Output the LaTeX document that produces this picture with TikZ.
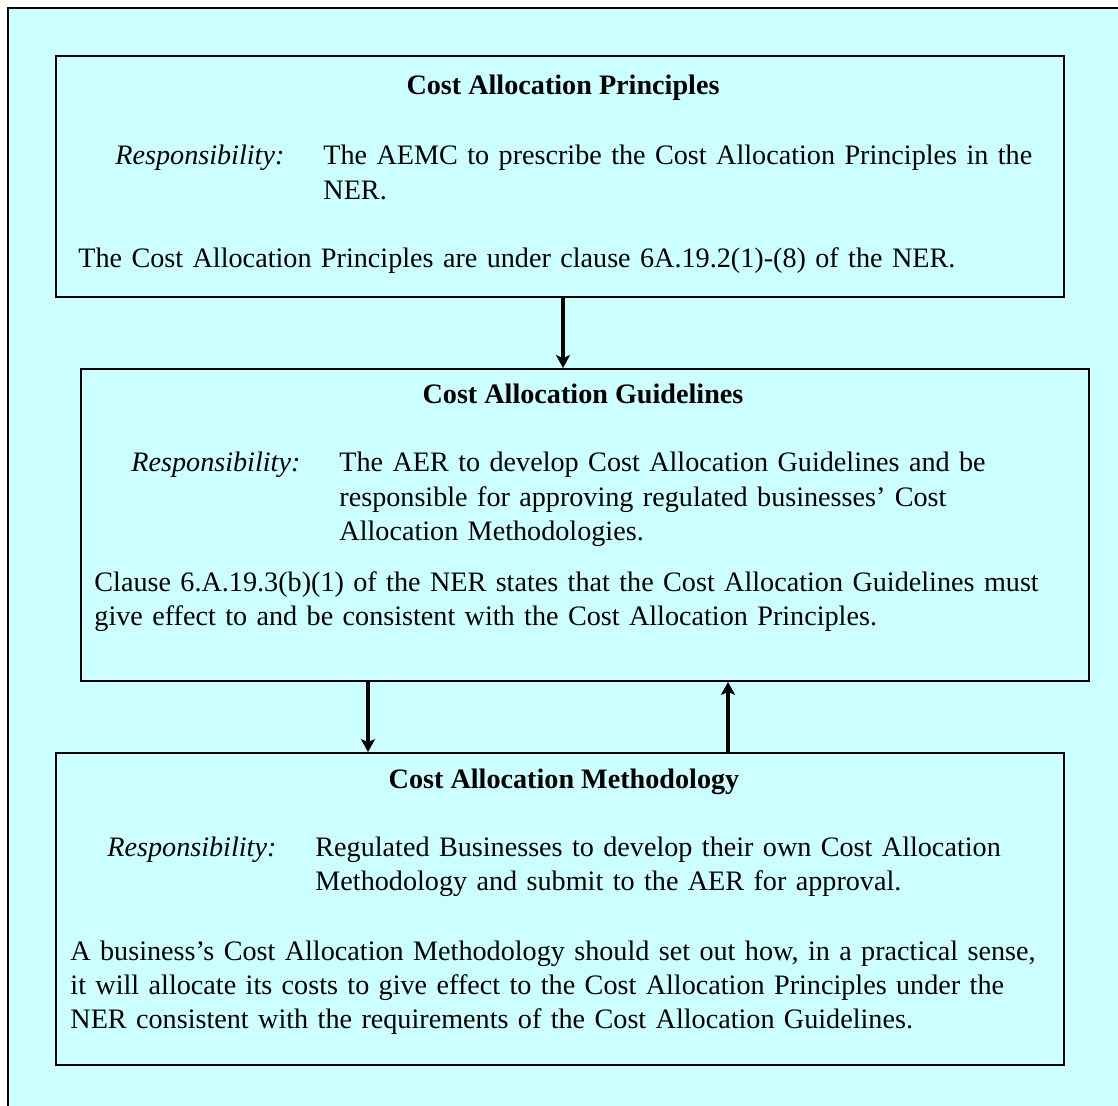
\documentclass[tikz,border=0pt]{standalone}
\usepackage{fontspec}
\setmainfont{Liberation Serif}
\usetikzlibrary{arrows.meta}
\usetikzlibrary{positioning,fit,calc}
\definecolor{paleblue}{HTML}{CCFFFF}

\begin{document}
\begin{tikzpicture}[x=0.4615pt, y=-0.4615pt,
         font = \fontsize{13}{15.9}\selectfont,
         panel/.style = {draw, line width=0.9pt, inner sep=0pt, fill=paleblue},
         head/.style = {anchor=base, inner sep=0pt, font=\fontsize{13}{15.9}\selectfont\bfseries},
         resp/.style = {anchor=base west, inner sep=0pt, font=\fontsize{13}{15.9}\selectfont\itshape},
         body/.style = {anchor=base west, inner sep=0pt, align=left, text width=470pt},
         flow/.style = {line width=1.8pt, -{Stealth[length=6pt, width=6.5pt, inset=1.5pt]}}
]
      \useasboundingbox (0,0) rectangle (1118,1106);

      % background sheet
      \fill[paleblue] (8,8) rectangle (1118,1106);
      \draw[line width=0.9pt] (8,1106) -- (8,8) -- (1118,8);

      % principles
      \node[panel, fit={(56,56) (1064,297)}]   (prin) {};
      \node[head] at (563,95)                  (prinT) {Cost Allocation Principles};
      \node[resp] at (115,165)                 (prinR) {Responsibility:};
      \node[body] at (323,165)                 (prinB) {The AEMC to prescribe the Cost Allocation Principles in the\\NER.};
      \node[body] at (78,268)                  (prinN) {The Cost Allocation Principles are under clause 6A.19.2(1)-(8) of the NER.};

      % guidelines
      \node[panel, fit={(81,369) (1089,681)}]  (guid) {};
      \node[head] at (583,404)                 (guidT) {Cost Allocation Guidelines};
      \node[resp] at (131,472)                 (guidR) {Responsibility:};
      \node[body] at (339,472)                 (guidB) {The AER to develop Cost Allocation Guidelines and be\\responsible for approving regulated businesses’ Cost\\Allocation Methodologies.};
      \node[body] at (94,591)                  (guidN) {Clause 6.A.19.3(b)(1) of the NER states that the Cost Allocation Guidelines must\\give effect to and be consistent with the Cost Allocation Principles.};

      % methodology
      \node[panel, fit={(56,753) (1064,1065)}] (meth) {};
      \node[head] at (564,788)                 (methT) {Cost Allocation Methodology};
      \node[resp] at (107,856)                 (methR) {Responsibility:};
      \node[body] at (315,856)                 (methB) {Regulated Businesses to develop their own Cost Allocation\\Methodology and submit to the AER for approval.};
      \node[body] at (70,960)                  (methN) {A business’s Cost Allocation Methodology should set out how, in a practical sense,\\it will allocate its costs to give effect to the Cost Allocation Principles under the\\NER consistent with the requirements of the Cost Allocation Guidelines.};

      % arrows
      \coordinate (a0) at (563,0);
      \coordinate (a1) at (368,0);
      \coordinate (a2) at (728,0);
      \draw[flow] (prin.south -| a0) -- (guid.north -| a0);
      \draw[flow] (guid.south -| a1) -- (meth.north -| a1);
      \draw[flow] (meth.north -| a2) -- (guid.south -| a2);
\end{tikzpicture}
\end{document}
